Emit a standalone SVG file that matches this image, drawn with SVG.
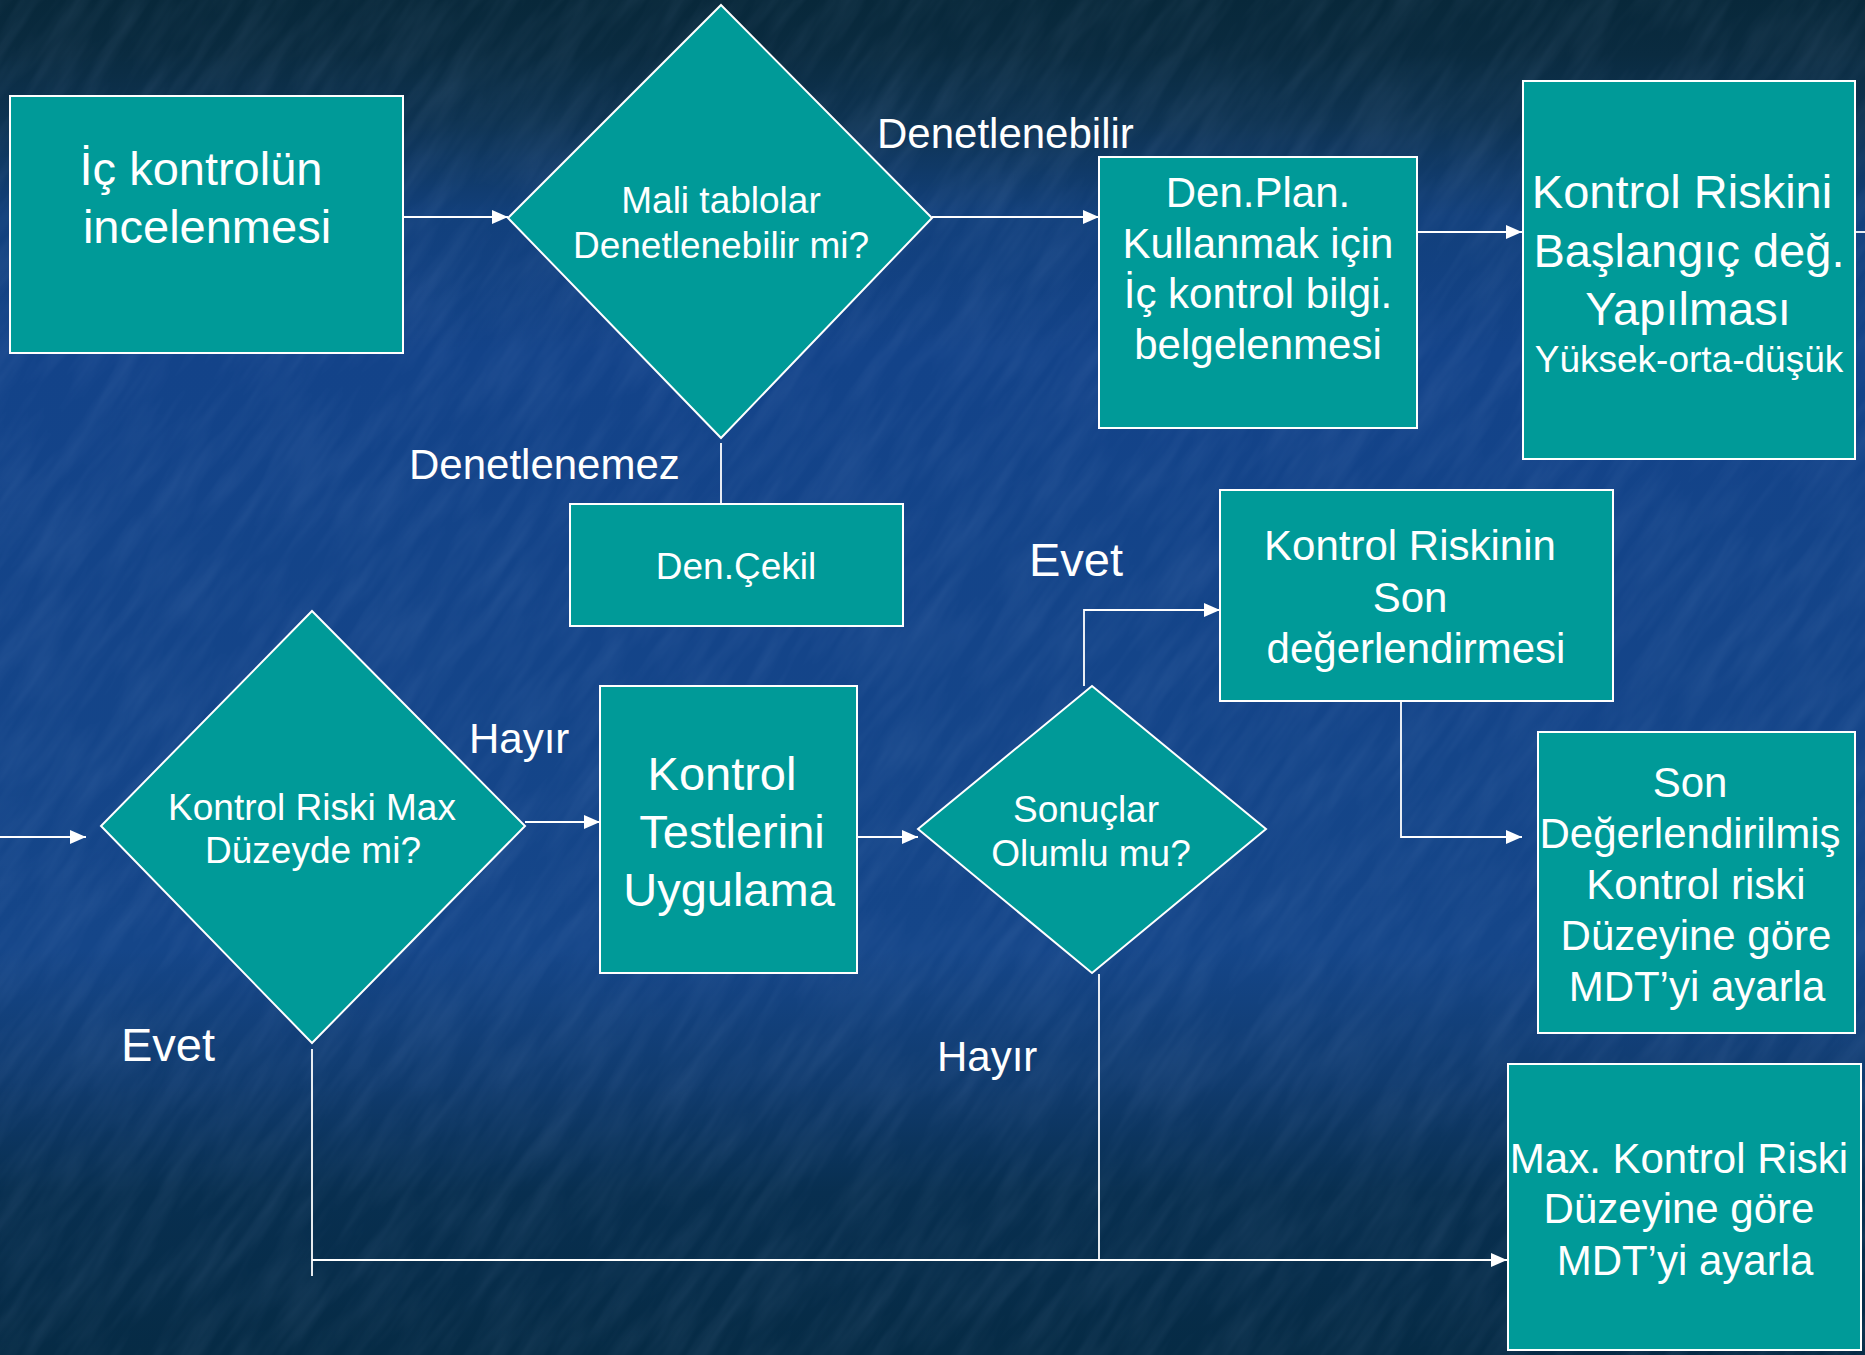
<svg xmlns="http://www.w3.org/2000/svg" width="1865" height="1355" viewBox="0 0 1865 1355">
<style>
.bg{fill:url(#bgGrad)}
.node{fill:#009a98;stroke:#ffffff;stroke-width:2}
.t{fill:#ffffff;font-family:"Liberation Sans",Arial,sans-serif;text-anchor:middle}
.lbl{fill:#ffffff;font-family:"Liberation Sans",Arial,sans-serif;text-anchor:start}
.c{fill:none;stroke:#ffffff;stroke-width:1.8}
.ca{fill:none;stroke:#ffffff;stroke-width:1.8;marker-end:url(#arr)}
</style>
<defs>
<linearGradient id="bgGrad" x1="0" y1="0" x2="0" y2="1">
<stop offset="0" stop-color="#08283a"/>
<stop offset="0.04" stop-color="#0a2b40"/>
<stop offset="0.09" stop-color="#0e3352"/>
<stop offset="0.16" stop-color="#12407c"/>
<stop offset="0.26" stop-color="#134389"/>
<stop offset="0.7" stop-color="#154689"/>
<stop offset="0.8" stop-color="#103b6e"/>
<stop offset="0.88" stop-color="#082f50"/>
<stop offset="1" stop-color="#062b45"/>
</linearGradient>
<filter id="tex" x="0" y="0" width="1" height="1">
<feTurbulence type="fractalNoise" baseFrequency="0.01 0.06" numOctaves="3" seed="4" result="n"/>
<feColorMatrix in="n" type="matrix" values="0 0 0 0 0.5  0 0 0 0 0.65  0 0 0 0 1  0 0 0 0.3 -0.1"/>
</filter>
<marker id="arr" viewBox="0 0 16 14" refX="16" refY="7" markerWidth="16" markerHeight="14" markerUnits="userSpaceOnUse" orient="auto">
<path d="M0,0 L16,7 L0,14 z" fill="#ffffff"/>
</marker>
</defs>
<rect class="bg" x="0" y="0" width="1865" height="1355"/>
<g transform="rotate(-55 932 677)" opacity="0.45"><rect x="-500" y="-500" width="2900" height="2400" filter="url(#tex)"/></g>

<g id="connectors">
<line class="ca" x1="404" y1="217" x2="508" y2="217"/>
<line class="ca" x1="932" y1="217" x2="1099" y2="217"/>
<line class="ca" x1="1417" y1="232" x2="1522" y2="232"/>
<line class="c" x1="1855" y1="232" x2="1865" y2="232"/>
<line class="ca" x1="0" y1="837" x2="86" y2="837"/>
<line class="c" x1="721" y1="443" x2="721" y2="504"/>
<line class="ca" x1="525" y1="822" x2="600" y2="822"/>
<line class="ca" x1="858" y1="837" x2="918" y2="837"/>
<polyline class="ca" points="1084,686 1084,610 1220,610"/>
<polyline class="ca" points="1401,701 1401,837 1522,837"/>
<line class="c" x1="312" y1="1049" x2="312" y2="1276"/>
<line class="ca" x1="312" y1="1260" x2="1507" y2="1260"/>
<line class="c" x1="1099" y1="974" x2="1099" y2="1260"/>
</g>

<g id="n-ic-kontrol">
<rect class="node" x="10" y="96" width="393" height="257"/>
<text class="t" font-size="47" x="201" y="185">İç kontrolün</text>
<text class="t" font-size="47" x="207" y="243">incelenmesi</text>
</g>

<g id="n-mali-tablolar">
<polygon class="node" points="721,5 932,218 721,438 508,218"/>
<text class="t" font-size="37" x="721" y="213">Mali tablolar</text>
<text class="t" font-size="37" x="721" y="258">Denetlenebilir mi?</text>
</g>

<g id="n-den-plan">
<rect class="node" x="1099" y="157" width="318" height="271"/>
<text class="t" font-size="42" x="1258" y="207">Den.Plan.</text>
<text class="t" font-size="42" x="1258" y="258">Kullanmak için</text>
<text class="t" font-size="42" x="1258" y="308">İç kontrol bilgi.</text>
<text class="t" font-size="42" x="1258" y="359">belgelenmesi</text>
</g>

<g id="n-kontrol-riskini">
<rect class="node" x="1523" y="81" width="332" height="378"/>
<text class="t" font-size="47" x="1682" y="208">Kontrol Riskini</text>
<text class="t" font-size="47" x="1689" y="267">Başlangıç değ.</text>
<text class="t" font-size="47" x="1688" y="325">Yapılması</text>
<text class="t" font-size="37" x="1689" y="372">Yüksek-orta-düşük</text>
</g>

<g id="n-den-cekil">
<rect class="node" x="570" y="504" width="333" height="122"/>
<text class="t" font-size="37" x="736" y="579">Den.Çekil</text>
</g>

<g id="n-kontrol-riski-max">
<polygon class="node" points="312,611 525,826 312,1043 101,826"/>
<text class="t" font-size="37" x="312" y="820">Kontrol Riski Max</text>
<text class="t" font-size="37" x="313" y="863">Düzeyde mi?</text>
</g>

<g id="n-kontrol-testleri">
<rect class="node" x="600" y="686" width="257" height="287"/>
<text class="t" font-size="47" x="722" y="790">Kontrol</text>
<text class="t" font-size="47" x="732" y="848">Testlerini</text>
<text class="t" font-size="47" x="729" y="906">Uygulama</text>
</g>

<g id="n-sonuclar">
<polygon class="node" points="1092,686 1266,829 1092,973 918,829"/>
<text class="t" font-size="37" x="1086" y="822">Sonuçlar</text>
<text class="t" font-size="37" x="1091" y="866">Olumlu mu?</text>
</g>

<g id="n-kontrol-riskinin-son">
<rect class="node" x="1220" y="490" width="393" height="211"/>
<text class="t" font-size="42" x="1410" y="560">Kontrol Riskinin</text>
<text class="t" font-size="42" x="1410" y="612">Son</text>
<text class="t" font-size="42" x="1416" y="663">değerlendirmesi</text>
</g>

<g id="n-son-degerlendirilmis">
<rect class="node" x="1538" y="732" width="317" height="301"/>
<text class="t" font-size="42" x="1690" y="797">Son</text>
<text class="t" font-size="42" x="1690" y="848">Değerlendirilmiş</text>
<text class="t" font-size="42" x="1696" y="899">Kontrol riski</text>
<text class="t" font-size="42" x="1696" y="950">Düzeyine göre</text>
<text class="t" font-size="42" x="1697" y="1001">MDT’yi ayarla</text>
</g>

<g id="n-max-kontrol">
<rect class="node" x="1508" y="1064" width="353" height="286"/>
<text class="t" font-size="42" x="1679" y="1173">Max. Kontrol Riski</text>
<text class="t" font-size="42" x="1679" y="1223">Düzeyine göre</text>
<text class="t" font-size="42" x="1685" y="1275">MDT’yi ayarla</text>
</g>

<g id="labels">
<text class="lbl" font-size="42" x="877" y="148">Denetlenebilir</text>
<text class="lbl" font-size="42" x="409" y="479">Denetlenemez</text>
<text class="lbl" font-size="47" x="1029" y="576">Evet</text>
<text class="lbl" font-size="42" x="469" y="753">Hayır</text>
<text class="lbl" font-size="47" x="121" y="1061">Evet</text>
<text class="lbl" font-size="42" x="937" y="1071">Hayır</text>
</g>
</svg>
